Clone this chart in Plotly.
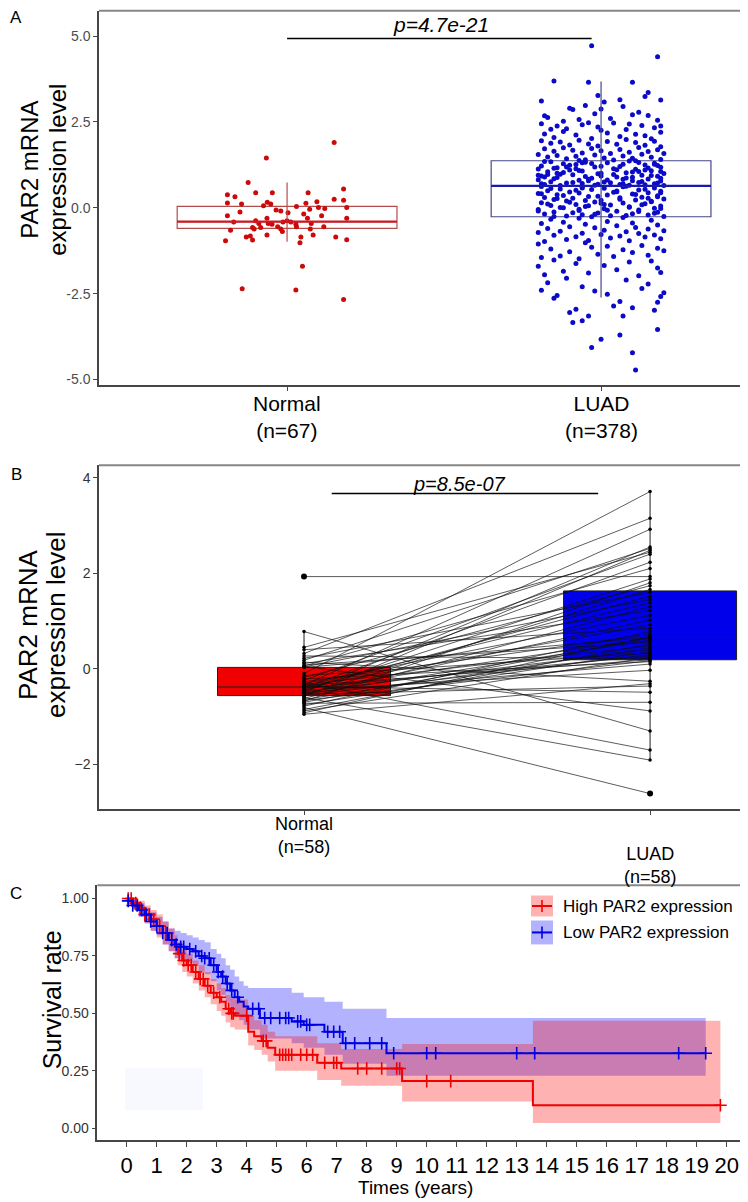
import bisect
import plotly.graph_objects as go

# page body has an 8px margin: the figure is placed at (8, 8) of the 748x1202 window
OFF = 8
W, H = 748 - OFF, 1202 - OFF

# ---------------- Panel A data ----------------
catsA_pos = [1, 2]
catsA_text = ["Normal<br>(n=67)", "LUAD<br>(n=378)"]
pA_text = "p=4.7e-21"
ytitle_lines = ["PAR2 mRNA", "expression level"]

normal_pts = [
    (0.15, 1.90), (-0.066, 1.45), (-0.124, 0.74), (-0.19, 0.38), (-0.166, 0.32), (-0.10, 0.44),
    (-0.047, 0.44), (0.067, 0.44), (0.18, 0.55), (0.15, 0.25), (0.18, 0.22), (0.19, 0.01),
    (0.19, -0.30), (-0.19, 0.14), (-0.145, 0.11), (-0.15, -0.12), (-0.19, -0.23), (-0.17, -0.41),
    (-0.18, -0.65), (-0.196, -0.96), (-0.063, 0.16), (-0.052, 0.11), (-0.10, -0.38), (-0.09, -0.46),
    (-0.11, -0.57), (-0.105, -0.62), (-0.084, -0.57), (-0.064, -0.30), (-0.06, -0.46), (-0.048, -0.48),
    (-0.064, -0.79), (-0.13, -0.85), (-0.117, -0.82), (-0.11, -0.94), (-0.03, -0.55), (-0.02, -0.62),
    (-0.015, -0.69), (-0.013, -0.41), (0.0, -0.38), (0.003, -0.14), (0.012, -0.41), (0.03, 0.04),
    (0.028, -0.48), (0.03, -0.55), (0.053, -0.18), (0.065, -0.30), (0.072, -0.04), (0.077, -0.46),
    (0.074, -0.62), (0.083, -0.79), (0.044, -0.85), (0.041, -1.02), (0.095, 0.18), (0.10, 0.01),
    (0.11, -0.23), (0.12, -0.02), (0.117, -0.55), (0.155, -0.85), (0.19, -0.93), (0.049, -1.70),
    (-0.143, -2.36), (0.028, -2.39), (0.18, -2.67), (-0.035, -0.06), (-0.075, 0.06), (-0.02, -0.09),
    (0.06, 0.13),
]

luad_pts = [
    # high tail
    (-0.03, 4.72), (0.18, 4.40), (-0.15, 3.69), (-0.04, 3.66), (0.10, 3.66), (0.15, 3.36), (0.14, 3.24),
    (0.19, 3.14), (-0.19, 3.11), (-0.01, 3.27), (0.01, 3.08), (0.06, 3.15),
    (0.07, 2.95), (0.00, 2.88), (-0.10, 2.90), (-0.09, 2.86), (-0.05, 2.98), (-0.17, 2.63), (-0.18, 2.68),
    (0.10, 2.71), (0.15, 2.69), (0.18, 2.55), (-0.12, 2.52), (0.03, 2.60), (-0.07, 2.57), (0.12, 2.78),
    (-0.02, 2.74),
    (-0.19, 2.45), (-0.14, 2.38), (-0.11, 2.30), (-0.06, 2.42), (-0.01, 2.35), (0.04, 2.47), (0.08, 2.28),
    (0.13, 2.40), (0.17, 2.33), (0.19, 2.20), (-0.18, 2.15), (-0.15, 2.05), (-0.08, 2.12), (-0.03, 2.02),
    (0.02, 2.18), (0.06, 2.08), (0.11, 2.14), (0.16, 2.01), (-0.12, 2.22), (0.00, 2.26), (0.09, 2.44),
    (-0.16, 2.29), (0.14, 2.10), (-0.04, 2.48), (0.19, 2.38),
    (-0.19, 1.95), (-0.16, 1.88), (-0.13, 1.92), (-0.10, 1.83), (-0.07, 1.97), (-0.04, 1.86), (-0.01, 1.80),
    (0.02, 1.93), (0.05, 1.85), (0.08, 1.99), (0.11, 1.90), (0.14, 1.82), (0.17, 1.94), (0.19, 1.78),
    (-0.18, 1.72), (-0.15, 1.65), (-0.12, 1.75), (-0.09, 1.68), (-0.06, 1.60), (-0.03, 1.73), (0.00, 1.66),
    (0.03, 1.58), (0.06, 1.70), (0.09, 1.62), (0.12, 1.76), (0.15, 1.64), (0.18, 1.69), (-0.20, 1.55),
    (-0.17, 1.48), (-0.14, 1.52), (-0.11, 1.43), (-0.08, 1.50), (-0.05, 1.40), (-0.02, 1.54), (0.01, 1.45),
    (0.04, 1.39), (0.07, 1.51), (0.10, 1.44), (0.13, 1.56), (0.16, 1.47), (0.19, 1.41), (0.20, 1.58),
    (-0.07, 1.38),
    # median .. Q3
    (-0.18, 1.35), (-0.05, 1.33), (0.09, 1.36), (0.17, 1.30), (-0.12, 1.28), (0.02, 1.31), (0.14, 1.25),
    (-0.19, 1.22), (-0.08, 1.26), (0.06, 1.20), (0.19, 1.18), (-0.15, 1.15), (-0.02, 1.19), (0.11, 1.12),
    (-0.10, 1.10), (0.04, 1.14), (0.16, 1.08), (-0.17, 1.05), (-0.06, 1.07), (0.08, 1.02), (0.20, 1.00),
    (-0.13, 0.98), (0.00, 1.01), (0.13, 0.95), (-0.19, 0.93), (-0.09, 0.96), (0.05, 0.90), (0.18, 0.92),
    (-0.14, 0.88), (-0.03, 0.86), (0.10, 0.89), (0.15, 0.84), (-0.20, 0.82), (-0.07, 0.80), (0.07, 0.83),
    (0.19, 0.78), (-0.16, 0.76), (-0.04, 0.79), (0.12, 0.74), (-0.11, 0.72), (0.01, 0.75), (0.17, 0.70),
    (-0.18, 0.68), (-0.01, 0.69), (0.09, 0.66), (-0.13, 0.65), (0.14, 0.67), (-0.06, 0.71), (0.03, 0.73),
    (0.20, 0.65), (-0.16, 1.34), (-0.03, 1.29), (0.12, 1.32), (-0.10, 1.24), (0.07, 1.27), (0.18, 1.23),
    (-0.14, 1.17), (0.00, 1.21), (0.15, 1.16), (-0.20, 1.13), (-0.07, 1.09), (0.05, 1.11), (0.19, 1.06),
    (-0.12, 1.03), (0.10, 1.04), (-0.01, 0.99), (-0.17, 0.97), (0.16, 0.94), (-0.05, 0.91), (0.08, 0.87),
    (-0.15, 0.85), (0.02, 0.81), (0.13, 0.77), (-0.09, 0.74), (0.18, 0.72), (-0.19, 0.70), (0.06, 0.68),
    (-0.02, 0.66), (0.11, 1.37), (-0.11, 1.19), (0.04, 0.97), (-0.18, 0.90), (0.14, 1.10), (-0.04, 0.83),
    (0.17, 1.27), (-0.08, 1.14), (0.00, 0.93), (0.10, 0.79), (-0.14, 1.01), (0.19, 0.86), (-0.06, 1.31),
    (0.07, 0.70), (-0.20, 0.95), (0.12, 1.06),
    # Q1 .. median
    (-0.19, 0.62), (-0.06, 0.60), (0.08, 0.63), (0.17, 0.58), (-0.13, 0.55), (0.01, 0.57), (0.12, 0.52),
    (-0.17, 0.50), (-0.03, 0.53), (0.19, 0.48), (-0.10, 0.46), (0.05, 0.49), (0.15, 0.44), (-0.20, 0.42),
    (-0.07, 0.43), (0.10, 0.40), (-0.14, 0.38), (0.02, 0.37), (0.18, 0.35), (-0.04, 0.33), (0.13, 0.31),
    (-0.18, 0.30), (-0.09, 0.28), (0.06, 0.29), (0.20, 0.26), (-0.15, 0.24), (0.00, 0.22), (0.11, 0.23),
    (-0.11, 0.20), (0.16, 0.18), (-0.02, 0.17), (-0.19, 0.15), (0.07, 0.14), (0.14, 0.12), (-0.08, 0.10),
    (0.03, 0.08), (-0.16, 0.07), (0.19, 0.05), (-0.05, 0.04), (0.09, 0.02), (-0.12, 0.00), (0.17, -0.01),
    (0.01, -0.03), (-0.20, -0.05), (0.12, -0.06), (-0.07, -0.08), (0.05, -0.10), (-0.15, -0.12),
    (0.18, -0.13), (-0.01, -0.15), (0.10, -0.17), (-0.18, -0.18), (-0.06, -0.20), (0.15, -0.21),
    (0.03, -0.23), (-0.11, -0.24), (0.20, -0.25), (-0.03, -0.26), (0.07, 0.61), (-0.16, 0.56),
    (0.14, 0.54), (-0.08, 0.51), (0.04, 0.45), (-0.19, 0.41), (0.11, 0.39), (-0.01, 0.34), (0.18, 0.32),
    (-0.14, 0.27), (0.06, 0.25), (-0.05, 0.21), (0.16, 0.19), (-0.10, 0.16), (0.00, 0.13), (-0.17, 0.11),
    (0.13, 0.09), (-0.04, 0.06), (0.09, 0.03), (-0.13, 0.01), (0.19, -0.02), (-0.07, -0.04), (0.02, -0.07),
    (-0.20, -0.09), (0.12, -0.11), (-0.09, -0.14), (0.17, -0.16), (-0.02, -0.19), (0.08, -0.22),
    (-0.15, -0.25), (0.05, 0.47), (-0.12, 0.36), (0.15, 0.28), (-0.06, 0.58), (0.01, 0.10), (0.19, 0.44),
    # low tail
    (0.11, -4.72), (0.10, -4.22), (-0.03, -4.07), (0.00, -3.83), (0.06, -3.70), (0.18, -3.54),
    (-0.09, -3.34), (-0.06, -3.29), (-0.04, -3.15), (0.07, -3.15), (-0.10, -3.05), (-0.08, -2.95),
    (0.04, -2.86), (0.06, -2.73), (0.10, -2.91), (0.17, -2.98), (-0.15, -2.63), (0.18, -2.75),
    (0.20, -2.47), (-0.19, -2.40), (-0.14, -2.55), (0.13, -2.35), (-0.06, -2.30), (0.02, -2.52),
    (0.15, -2.22), (-0.17, -2.18), (0.08, -2.10), (-0.11, -2.05), (0.19, -2.58), (-0.02, -2.42),
    (-0.18, -1.95), (-0.12, -1.85), (-0.04, -1.90), (0.05, -1.80), (0.12, -1.98), (0.18, -1.75),
    (-0.20, -1.70), (-0.08, -1.62), (0.01, -1.68), (0.09, -1.58), (0.16, -1.55), (-0.15, -1.52),
    (0.19, -1.88), (-0.19, -1.45), (-0.13, -1.40), (-0.07, -1.48), (-0.01, -1.35), (0.04, -1.42),
    (0.10, -1.30), (0.15, -1.38), (0.20, -1.25), (-0.16, -1.20), (-0.10, -1.28), (-0.03, -1.15),
    (0.07, -1.22), (0.13, -1.10), (0.18, -1.18), (-0.20, -1.05), (-0.05, -1.02), (0.02, -1.12),
    (-0.18, -0.98), (-0.11, -0.92), (-0.04, -0.95), (0.03, -0.88), (0.09, -0.96), (0.14, -0.85),
    (0.19, -0.90), (-0.15, -0.80), (-0.08, -0.84), (0.00, -0.78), (0.06, -0.82), (0.12, -0.75),
    (0.17, -0.79), (-0.20, -0.72), (-0.13, -0.68), (-0.06, -0.74), (0.01, -0.65), (0.08, -0.70),
    (0.15, -0.62), (0.20, -0.67), (-0.17, -0.60), (-0.10, -0.55), (-0.02, -0.58), (0.05, -0.52),
    (0.11, -0.57), (0.18, -0.50), (-0.19, -0.46), (-0.12, -0.42), (-0.05, -0.48), (0.02, -0.40),
    (0.10, -0.44), (0.16, -0.36), (-0.16, -0.33), (-0.07, -0.30), (0.07, -0.28),
]

boxA_q1 = [-0.60, -0.26]
boxA_med = [-0.40, 0.64]
boxA_q3 = [0.04, 1.37]
boxA_lo = [-0.99, -2.61]
boxA_hi = [0.74, 3.68]

# ---------------- Panel B data ----------------
catsB_text = ["Normal<br>(n=58)", "LUAD<br>(n=58)"]
pB_text = "p=8.5e-07"
normal_b = [1.93, 0.78, 0.45, 0.40, 0.32, 0.27, 0.22, 0.18, 0.14, 0.11, 0.08, 0.06, 0.05, 0.04, 0.03,
            -0.10, -0.14, -0.18, -0.21, -0.24, -0.27, -0.29, -0.31, -0.33, -0.34, -0.35, -0.36, -0.37, -0.38,
            -0.39, -0.40, -0.42, -0.43, -0.45, -0.46, -0.48, -0.49, -0.50, -0.52, -0.53, -0.54, -0.55, -0.56,
            -0.58, -0.60, -0.62, -0.64, -0.66, -0.68, -0.70, -0.72, -0.75, -0.78, -0.81, -0.85, -0.88, -0.92, -0.95]
luad_b = [1.93, -1.30, 2.44, 0.85, 3.15, 0.21, 1.60, 2.52, -0.26, 1.22, 0.56, 2.10, -0.88, 1.45, 0.66,
          3.71, 0.33, 1.74, 0.15, 2.40, 0.72, -1.70, 1.12, 0.48, 2.92, 0.19, 1.38, -0.49, 0.92,
          2.23, 0.27, 1.52, 0.64, -0.03, 1.88, 0.40, 2.55, 0.10, 1.02, -0.36, 0.60, 1.66, 0.30,
          2.48, -1.91, 1.30, 0.44, 0.17, 1.80, 0.65, -0.70, 0.36, 0.78, -2.61, 0.52, 0.24, 0.68, -0.31]
boxB_q1 = [-0.56, 0.19]
boxB_med = [-0.38, 0.655]
boxB_q3 = [0.03, 1.63]
boxB_lo = [-0.95, -1.91]
boxB_hi = [0.78, 3.71]

# ---------------- Panel C data ----------------
high_t = [0, 0.2, 0.4, 0.6, 0.8, 1.0, 1.2, 1.4, 1.6, 1.7, 1.85, 2.0, 2.2, 2.4, 2.6, 2.8, 3.0, 3.15, 3.3,
          3.45, 3.6, 4.05, 4.25, 4.5, 4.7, 4.95, 6.35, 7.15, 9.18, 13.54, 19.79]
high_s = [1.00, 0.98, 0.96, 0.93, 0.91, 0.88, 0.85, 0.82, 0.79, 0.76, 0.73, 0.71, 0.68, 0.65, 0.62, 0.59,
          0.57, 0.55, 0.52, 0.50, 0.49, 0.42, 0.40, 0.38, 0.35, 0.32, 0.285, 0.26, 0.205, 0.10, 0.10]
high_up = [1.00, 1.00, 0.99, 0.97, 0.95, 0.93, 0.90, 0.87, 0.84, 0.81, 0.78, 0.76, 0.73, 0.71, 0.68, 0.65,
           0.63, 0.61, 0.58, 0.57, 0.56, 0.49, 0.47, 0.45, 0.42, 0.40, 0.37, 0.345, 0.367, 0.468, 0.468]
high_lo = [0.99, 0.96, 0.93, 0.89, 0.86, 0.83, 0.80, 0.77, 0.74, 0.71, 0.68, 0.66, 0.63, 0.60, 0.57, 0.54,
           0.51, 0.49, 0.46, 0.44, 0.43, 0.36, 0.34, 0.32, 0.29, 0.25, 0.21, 0.185, 0.116, 0.022, 0.022]
high_cens = [0.05, 0.15, 0.3, 0.45, 0.6, 0.75, 0.9, 1.1, 1.3, 1.5, 1.75, 1.9, 2.05, 2.15, 2.3, 2.45, 2.55,
             2.7, 2.9, 3.1, 3.4, 3.5, 3.55, 4.0, 4.55, 4.65, 5.1, 5.2, 5.3, 5.4, 5.5, 5.8, 6.0, 6.2, 6.6,
             6.9, 7.0, 7.7, 8.0, 8.5, 9.0, 9.1, 10.0, 10.8, 19.79]

low_t = [0, 0.2, 0.4, 0.6, 0.8, 1.0, 1.2, 1.4, 1.6, 1.8, 2.0, 2.2, 2.4, 2.6, 2.8, 3.0, 3.15, 3.3, 3.45,
         3.6, 3.75, 3.9, 4.05, 4.44, 5.5, 5.9, 6.59, 7.2, 8.66, 19.3]
low_s = [0.99, 0.97, 0.95, 0.93, 0.90, 0.88, 0.85, 0.82, 0.80, 0.79, 0.78, 0.77, 0.75, 0.74, 0.71, 0.68,
         0.66, 0.63, 0.60, 0.57, 0.55, 0.53, 0.52, 0.48, 0.465, 0.45, 0.42, 0.37, 0.326, 0.326]
low_up = [1.00, 0.99, 0.98, 0.96, 0.94, 0.92, 0.90, 0.87, 0.86, 0.85, 0.84, 0.83, 0.82, 0.81, 0.78, 0.76,
          0.74, 0.71, 0.69, 0.66, 0.64, 0.62, 0.61, 0.61, 0.59, 0.57, 0.55, 0.52, 0.48, 0.48]
low_lo = [0.97, 0.95, 0.92, 0.90, 0.86, 0.84, 0.80, 0.77, 0.74, 0.73, 0.72, 0.71, 0.68, 0.67, 0.64, 0.60,
          0.58, 0.55, 0.52, 0.49, 0.47, 0.45, 0.43, 0.39, 0.37, 0.35, 0.32, 0.28, 0.228, 0.228]
low_cens = [0.05, 0.2, 0.35, 0.5, 0.65, 0.8, 1.0, 1.2, 1.35, 1.5, 1.65, 1.8, 1.9, 2.1, 2.3, 2.5, 2.6, 2.75,
            2.9, 3.05, 3.2, 3.35, 3.5, 3.7, 4.2, 4.4, 4.6, 4.8, 5.1, 5.3, 5.4, 5.7, 5.8, 6.0, 6.1, 6.7,
            6.9, 7.1, 7.3, 7.6, 8.1, 8.5, 8.9, 10.0, 10.3, 13.0, 13.6, 18.4, 19.3]
legend_labels = ["High PAR2 expression", "Low PAR2 expression"]
years = list(range(0, 21))


def py(p):
    """window pixel row -> paper y"""
    return 1 - (p - OFF) / H


def pxx(p):
    """window pixel column -> paper x"""
    return (p - OFF) / W


fig = go.Figure()

# ---------- Panel A ----------
ax = dict(xaxis="x", yaxis="y")
fig.add_trace(go.Scatter(x=[1 + d for d, _ in normal_pts], y=[v for _, v in normal_pts], mode="markers",
                         marker=dict(color="rgb(204,10,10)", size=5), **ax))
fig.add_trace(go.Scatter(x=[2 + d for d, _ in luad_pts], y=[v for _, v in luad_pts], mode="markers",
                         marker=dict(color="rgb(10,10,200)", size=5), **ax))
boxA_col = ["rgb(180,75,75)", "rgb(70,70,140)"]
medA_col = ["rgb(205,25,35)", "rgb(25,25,175)"]
for i, pos in enumerate(catsA_pos):
    fig.add_trace(go.Box(x=[pos], q1=[boxA_q1[i]], median=[boxA_med[i]], q3=[boxA_q3[i]],
                         lowerfence=[boxA_q1[i]], upperfence=[boxA_q3[i]], width=0.7,
                         fillcolor="rgba(0,0,0,0)", line=dict(color=boxA_col[i], width=1.2),
                         whiskerwidth=0, boxpoints=False, **ax))
    fig.add_trace(go.Scatter(x=[pos, pos], y=[boxA_lo[i], boxA_hi[i]], mode="lines",
                             line=dict(color=boxA_col[i], width=1.2), **ax))
    fig.add_trace(go.Scatter(x=[pos - 0.35, pos + 0.35], y=[boxA_med[i], boxA_med[i]], mode="lines",
                             line=dict(color=medA_col[i], width=2.2), **ax))
fig.add_trace(go.Scatter(x=[1.0, 1.97], y=[4.93, 4.93], mode="lines", line=dict(color="black", width=1.6), **ax))

# ---------- Panel B ----------
bx = dict(xaxis="x2", yaxis="y2")
boxB_fill = ["rgb(240,0,0)", "rgb(0,0,235)"]
for i, pos in enumerate(catsA_pos):
    fig.add_trace(go.Box(x=[pos], q1=[boxB_q1[i]], median=[boxB_med[i]], q3=[boxB_q3[i]],
                         lowerfence=[boxB_lo[i]], upperfence=[boxB_hi[i]], width=0.5,
                         fillcolor=boxB_fill[i], line=dict(color="rgb(30,30,30)", width=1),
                         whiskerwidth=0, boxpoints=False, **bx))
lx, ly = [], []
for n, l in zip(normal_b, luad_b):
    lx += [1, 2, None]
    ly += [n, l, None]
fig.add_trace(go.Scatter(x=lx, y=ly, mode="lines+markers", line=dict(color="rgba(15,15,15,0.85)", width=0.8),
                         marker=dict(color="black", size=3.5), **bx))
outx, outy = [], []
for i, vals in enumerate([normal_b, luad_b]):
    for v in vals:
        if v > boxB_hi[i] or v < boxB_lo[i]:
            outx.append(catsA_pos[i])
            outy.append(v)
fig.add_trace(go.Scatter(x=outx, y=outy, mode="markers", marker=dict(color="black", size=6), **bx))
fig.add_trace(go.Scatter(x=[1.08, 1.85], y=[3.67, 3.67], mode="lines", line=dict(color="black", width=1.6), **bx))

# ---------- Panel C ----------
cx = dict(xaxis="x3", yaxis="y3")
for t, lo, up, fc in [(low_t, low_lo, low_up, "rgba(0,0,255,0.3)"), (high_t, high_lo, high_up, "rgba(255,0,0,0.3)")]:
    fig.add_trace(go.Scatter(x=t, y=lo, mode="lines", line=dict(width=0, shape="hv"), **cx))
    fig.add_trace(go.Scatter(x=t, y=up, mode="lines", line=dict(width=0, shape="hv"), fill="tonexty",
                             fillcolor=fc, **cx))


def surv_at(ts, ss, tc):
    i = bisect.bisect_right(ts, tc) - 1
    return ss[max(i, 0)]


for t, s, cens, col in [(high_t, high_s, high_cens, "rgb(240,0,0)"), (low_t, low_s, low_cens, "rgb(0,0,225)")]:
    fig.add_trace(go.Scatter(x=t, y=s, mode="lines", line=dict(color=col, width=2, shape="hv"), **cx))
    fig.add_trace(go.Scatter(x=cens, y=[surv_at(t, s, c) for c in cens], mode="markers",
                             marker=dict(symbol="cross-thin", size=9, line=dict(color=col, width=1.6)), **cx))

# ---------- Layout ----------
axcol = "rgb(70,70,70)"
common = dict(showgrid=False, zeroline=False, showline=True, linecolor=axcol, linewidth=1.5,
              ticks="outside", tickcolor=axcol, ticklen=4)
font = "Liberation Sans, Arial, sans-serif"

fig.update_layout(
    width=W, height=H, margin=dict(l=0, r=0, t=0, b=0), showlegend=False,
    plot_bgcolor="white", paper_bgcolor="white", font=dict(family=font, color="black"),
    xaxis=dict(domain=[pxx(99), 1], range=[0.401, 2.468], anchor="y", tickvals=catsA_pos,
               showticklabels=False, **common),
    yaxis=dict(domain=[py(386), py(10.7)], range=[-5.17, 5.74], anchor="x",
               tickvals=[-5, -2.5, 0, 2.5, 5], ticktext=["-5.0", "-2.5", "0.0", "2.5", "5.0"],
               tickfont=dict(size=14, color="rgb(77,77,77)"), **common),
    xaxis2=dict(domain=[pxx(99), 1], range=[0.4075, 2.283], anchor="y2", tickvals=catsA_pos,
                showticklabels=False, **common),
    yaxis2=dict(domain=[py(810.7), py(466)], range=[-2.94, 4.26], anchor="x2", tickvals=[-2, 0, 2, 4],
                tickfont=dict(size=14, color="rgb(51,51,51)"), **common),
    xaxis3=dict(domain=[pxx(97.3), 1], range=[-0.98, 20.71], anchor="y3", tickvals=years,
                tickfont=dict(size=22, color="black"), **{**common, "ticklen": 5}),
    yaxis3=dict(domain=[py(1142), py(886.7)], range=[-0.052, 1.058], anchor="x3",
                tickvals=[0, 0.25, 0.5, 0.75, 1.0], ticktext=["0.00", "0.25", "0.50", "0.75", "1.00"],
                tickfont=dict(size=14, color="rgb(51,51,51)"), **common),
)

shapes = []
for xr, yr in [("x", "y"), ("x2", "y2"), ("x3", "y3")]:
    shapes.append(dict(type="line", xref=xr + " domain", yref=yr + " domain", x0=0, x1=1, y0=1, y1=1,
                       line=dict(color="rgb(135,135,135)", width=2)))
# faint smudge in panel C
shapes.append(dict(type="rect", xref="paper", yref="paper", x0=pxx(125), x1=pxx(203), y0=py(1112), y1=py(1070),
                   fillcolor="rgb(248,249,255)", line=dict(width=0), layer="below"))
# legend keys
leg_cols = [("rgba(255,0,0,0.3)", "rgb(240,0,0)", 897, 918), ("rgba(0,0,255,0.3)", "rgb(0,0,225)", 922, 946)]
for fc, lc, y0, y1 in leg_cols:
    shapes.append(dict(type="rect", xref="paper", yref="paper", x0=pxx(531), x1=pxx(553), y0=py(y1), y1=py(y0),
                       fillcolor=fc, line=dict(width=0)))
    ym = (y0 + y1) / 2
    shapes.append(dict(type="line", xref="paper", yref="paper", x0=pxx(532), x1=pxx(552), y0=py(ym), y1=py(ym),
                       line=dict(color=lc, width=2)))
    shapes.append(dict(type="line", xref="paper", yref="paper", x0=pxx(542), x1=pxx(542), y0=py(ym - 6),
                       y1=py(ym + 6), line=dict(color=lc, width=1.6)))
fig.update_layout(shapes=shapes)

ann = []
# panel letters
for lab, yy in [("A", 18), ("B", 475), ("C", 895)]:
    ann.append(dict(text=lab, x=pxx(16), y=py(yy), xref="paper", yref="paper", showarrow=False,
                    font=dict(size=17, color="black"), xanchor="center", yanchor="middle"))
# p-values
ann.append(dict(text="<i>" + pA_text + "</i>", x=1.49, y=5.33, xref="x", yref="y", showarrow=False,
                font=dict(size=21), xanchor="center", yanchor="middle"))
ann.append(dict(text="<i>" + pB_text + "</i>", x=1.45, y=3.87, xref="x2", yref="y2", showarrow=False,
                font=dict(size=20), xanchor="center", yanchor="middle"))
# panel A category labels
for pos, txt in zip(catsA_pos, catsA_text):
    ann.append(dict(text=txt, x=pos, y=py(418), xref="x", yref="paper", showarrow=False,
                    font=dict(size=21), xanchor="center", yanchor="middle"))
# panel B category labels (staggered)
for pos, txt, yy in zip(catsA_pos, catsB_text, [836.5, 866.5]):
    ann.append(dict(text=txt, x=pos, y=py(yy), xref="x2", yref="paper", showarrow=False,
                    font=dict(size=18), xanchor="center", yanchor="middle"))
# y titles (one annotation per line to control the spacing)
for line, xx in zip(ytitle_lines, [30, 58]):
    ann.append(dict(text=line, x=pxx(xx), y=py(170), xref="paper", yref="paper", showarrow=False,
                    textangle=-90, font=dict(size=24), xanchor="center", yanchor="middle"))
for line, xx in zip(ytitle_lines, [28, 56]):
    ann.append(dict(text=line, x=pxx(xx), y=py(626), xref="paper", yref="paper", showarrow=False,
                    textangle=-90, font=dict(size=26), xanchor="center", yanchor="middle"))
ann.append(dict(text="Survival rate", x=pxx(52), y=py(1002), xref="paper", yref="paper",
                showarrow=False, textangle=-90, font=dict(size=25), xanchor="center", yanchor="middle"))
ann.append(dict(text="Times (years)", x=pxx(415), y=py(1189), xref="paper", yref="paper",
                showarrow=False, font=dict(size=19), xanchor="center", yanchor="middle"))
# legend labels
for lab, yy in zip(legend_labels, [908, 934]):
    ann.append(dict(text=lab, x=pxx(561), y=py(yy), xref="paper", yref="paper", showarrow=False,
                    font=dict(size=17), xanchor="left", yanchor="middle"))
fig.update_layout(annotations=ann)

fig.write_html("out.html")
